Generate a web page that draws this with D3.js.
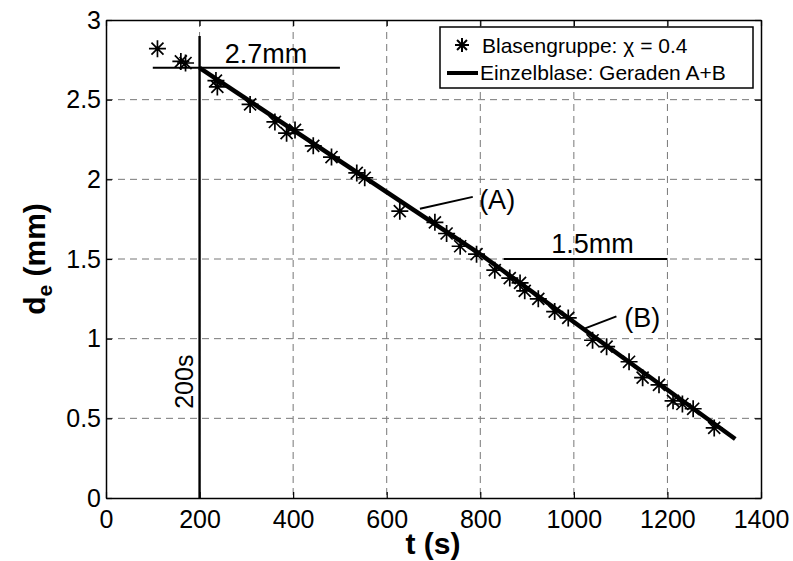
<!DOCTYPE html>
<html>
<head>
<meta charset="utf-8">
<script src="https://cdn.jsdelivr.net/npm/d3@7"></script>
<style>
body { margin: 0; background: #fff; }
text { font-family: "Liberation Sans", Arial, sans-serif; fill: #000; }
</style>
</head>
<body>
<script>
// measured points (Blasengruppe, chi = 0.4)
var tValues = [110, 160, 170, 235, 238, 308, 361, 386, 404, 443, 482, 536, 553, 628, 703, 728, 757, 792,
  831, 863, 885, 895, 924, 959, 988, 1040, 1070, 1118, 1147, 1182, 1212, 1232, 1255, 1300];
var dValues = [2.82, 2.74, 2.73, 2.62, 2.58, 2.47, 2.36, 2.29, 2.31, 2.21, 2.14, 2.04, 2.01, 1.80, 1.73, 1.66, 1.58, 1.53,
  1.43, 1.38, 1.35, 1.30, 1.25, 1.17, 1.13, 0.99, 0.95, 0.855, 0.755, 0.71, 0.61, 0.59, 0.56, 0.44];

// single bubble: straight lines A and B
var lineA = [[200, 2.7], [800, 1.53]];
var lineB = [[800, 1.53], [1345, 0.37]];

// annotation marks in data units
var mark27 = [[100, 2.7], [500, 2.7]];
var mark15 = [[850, 1.5], [1200, 1.5]];
var mark200 = [[200, 0], [200, 2.9]];
var leaderA = [[671, 1.815], [784, 1.89]];
var leaderB = [[1024, 1.065], [1091, 1.14]];

var xTicks = [0, 200, 400, 600, 800, 1000, 1200, 1400];
var yTicks = [0, 0.5, 1, 1.5, 2, 2.5, 3];

var svgWidth = 793;
var svgHeight = 561;
var margin = { top: 20, right: 32, bottom: 63, left: 106 };
var width = svgWidth - margin.left - margin.right;
var height = svgHeight - margin.top - margin.bottom;

var svg = d3.select("body")
  .append("svg")
  .attr("width", svgWidth)
  .attr("height", svgHeight);

var chart = svg.append("g")
  .attr("transform", "translate(" + margin.left + "," + margin.top + ")");

var xScale = d3.scaleLinear().domain([0, 1400]).range([0, width]);
var yScale = d3.scaleLinear().domain([0, 3]).range([height, 0]);

// grid
chart.append("g")
  .selectAll("line")
  .data(xTicks.slice(1, -1))
  .enter()
  .append("line")
  .attr("x1", function(d) { return xScale(d); })
  .attr("x2", function(d) { return xScale(d); })
  .attr("y1", 0)
  .attr("y2", height)
  .attr("stroke", "#777")
  .attr("stroke-dasharray", "7,5");

chart.append("g")
  .selectAll("line")
  .data(yTicks.slice(1, -1))
  .enter()
  .append("line")
  .attr("x1", 0)
  .attr("x2", width)
  .attr("y1", function(d) { return yScale(d); })
  .attr("y2", function(d) { return yScale(d); })
  .attr("stroke", "#777")
  .attr("stroke-dasharray", "7,5");

// axes, ticks pointing inward like matlab
var plain = function(d) { return String(d); };
var bottomAxis = d3.axisBottom(xScale).tickValues(xTicks).tickSizeInner(-6).tickSizeOuter(0).tickPadding(12).tickFormat(plain);
var leftAxis = d3.axisLeft(yScale).tickValues(yTicks).tickSizeInner(-6).tickSizeOuter(0).tickPadding(5).tickFormat(plain);
var topAxis = d3.axisTop(xScale).tickValues(xTicks).tickSizeInner(-6).tickSizeOuter(0).tickFormat("");
var rightAxis = d3.axisRight(yScale).tickValues(yTicks).tickSizeInner(-6).tickSizeOuter(0).tickFormat("");

function styleAxis(g) {
  g.select(".domain").attr("stroke", "#000").attr("stroke-width", 1.5);
  g.selectAll(".tick line").attr("stroke", "#000").attr("stroke-width", 1.2);
  g.selectAll(".tick text").style("font-size", "25px").attr("fill", "#000");
  g.attr("font-family", null);
}

chart.append("g").attr("transform", "translate(0," + height + ")").call(bottomAxis).call(styleAxis);
chart.append("g").call(leftAxis).call(styleAxis);
chart.append("g").call(topAxis).call(styleAxis);
chart.append("g").attr("transform", "translate(" + width + ",0)").call(rightAxis).call(styleAxis);

// annotation lines
var segment = d3.line()
  .x(function(d) { return xScale(d[0]); })
  .y(function(d) { return yScale(d[1]); });

[mark27, mark15, leaderA, leaderB].forEach(function(m) {
  chart.append("path").attr("d", segment(m)).attr("stroke", "#000").attr("stroke-width", 2).attr("fill", "none");
});
chart.append("path").attr("d", segment(mark200)).attr("stroke", "#000").attr("stroke-width", 2.4).attr("fill", "none");

// fitted lines
[lineA, lineB].forEach(function(m) {
  chart.append("path").attr("d", segment(m)).attr("stroke", "#000").attr("stroke-width", 4.5).attr("fill", "none");
});

// star markers
function starPath(r) {
  var k = r * 0.7071;
  return "M" + (-r) + ",0H" + r + "M0," + (-r) + "V" + r +
    "M" + (-k) + "," + (-k) + "L" + k + "," + k + "M" + (-k) + "," + k + "L" + k + "," + (-k);
}

chart.append("g")
  .selectAll("path")
  .data(tValues)
  .enter()
  .append("path")
  .attr("transform", function(d, i) { return "translate(" + xScale(d) + "," + yScale(dValues[i]) + ")"; })
  .attr("d", starPath(8.5))
  .attr("stroke", "#000")
  .attr("stroke-width", 1.7)
  .attr("fill", "none");

// labels inside the plot
function note(x, y, txt, dy) {
  return chart.append("text")
    .attr("x", xScale(x))
    .attr("y", yScale(y))
    .attr("dy", dy)
    .attr("text-anchor", "middle")
    .style("font-size", "27px")
    .text(txt);
}
note(342, 2.73, "2.7mm", 0);
note(1040, 1.535, "1.5mm", 0);
note(836, 1.87, "(A)", "0.35em");
note(1146, 1.13, "(B)", "0.35em");

chart.append("text")
  .attr("transform", "translate(" + xScale(186) + "," + yScale(0.73) + ") rotate(-90)")
  .attr("text-anchor", "middle")
  .style("font-size", "25px")
  .text("200s");

// legend
var legend = svg.append("g").attr("transform", "translate(440,27)");
legend.append("rect")
  .attr("width", 313)
  .attr("height", 61)
  .attr("fill", "#fff")
  .attr("stroke", "#000")
  .attr("stroke-width", 1.5);
legend.append("path")
  .attr("transform", "translate(22,18)")
  .attr("d", starPath(7))
  .attr("stroke", "#000")
  .attr("stroke-width", 2)
  .attr("fill", "none");
legend.append("text")
  .attr("x", 42)
  .attr("y", 26)
  .style("font-size", "21px")
  .text("Blasengruppe: \u03C7 = 0.4");
legend.append("line")
  .attr("x1", 7)
  .attr("x2", 38)
  .attr("y1", 46)
  .attr("y2", 46)
  .attr("stroke", "#000")
  .attr("stroke-width", 4);
legend.append("text")
  .attr("x", 40)
  .attr("y", 53)
  .style("font-size", "21px")
  .text("Einzelblase: Geraden A+B");

// axis titles
svg.append("text")
  .attr("x", 433)
  .attr("y", 554)
  .attr("text-anchor", "middle")
  .style("font-size", "30px")
  .style("font-weight", "bold")
  .text("t (s)");

var yTitle = svg.append("text")
  .attr("transform", "translate(45,259) rotate(-90)")
  .attr("text-anchor", "middle")
  .style("font-size", "30px")
  .style("font-weight", "bold");
yTitle.append("tspan").text("d");
yTitle.append("tspan").attr("dy", 7).style("font-size", "21px").text("e");
yTitle.append("tspan").attr("dy", -7).text(" (mm)");
</script>
</body>
</html>
